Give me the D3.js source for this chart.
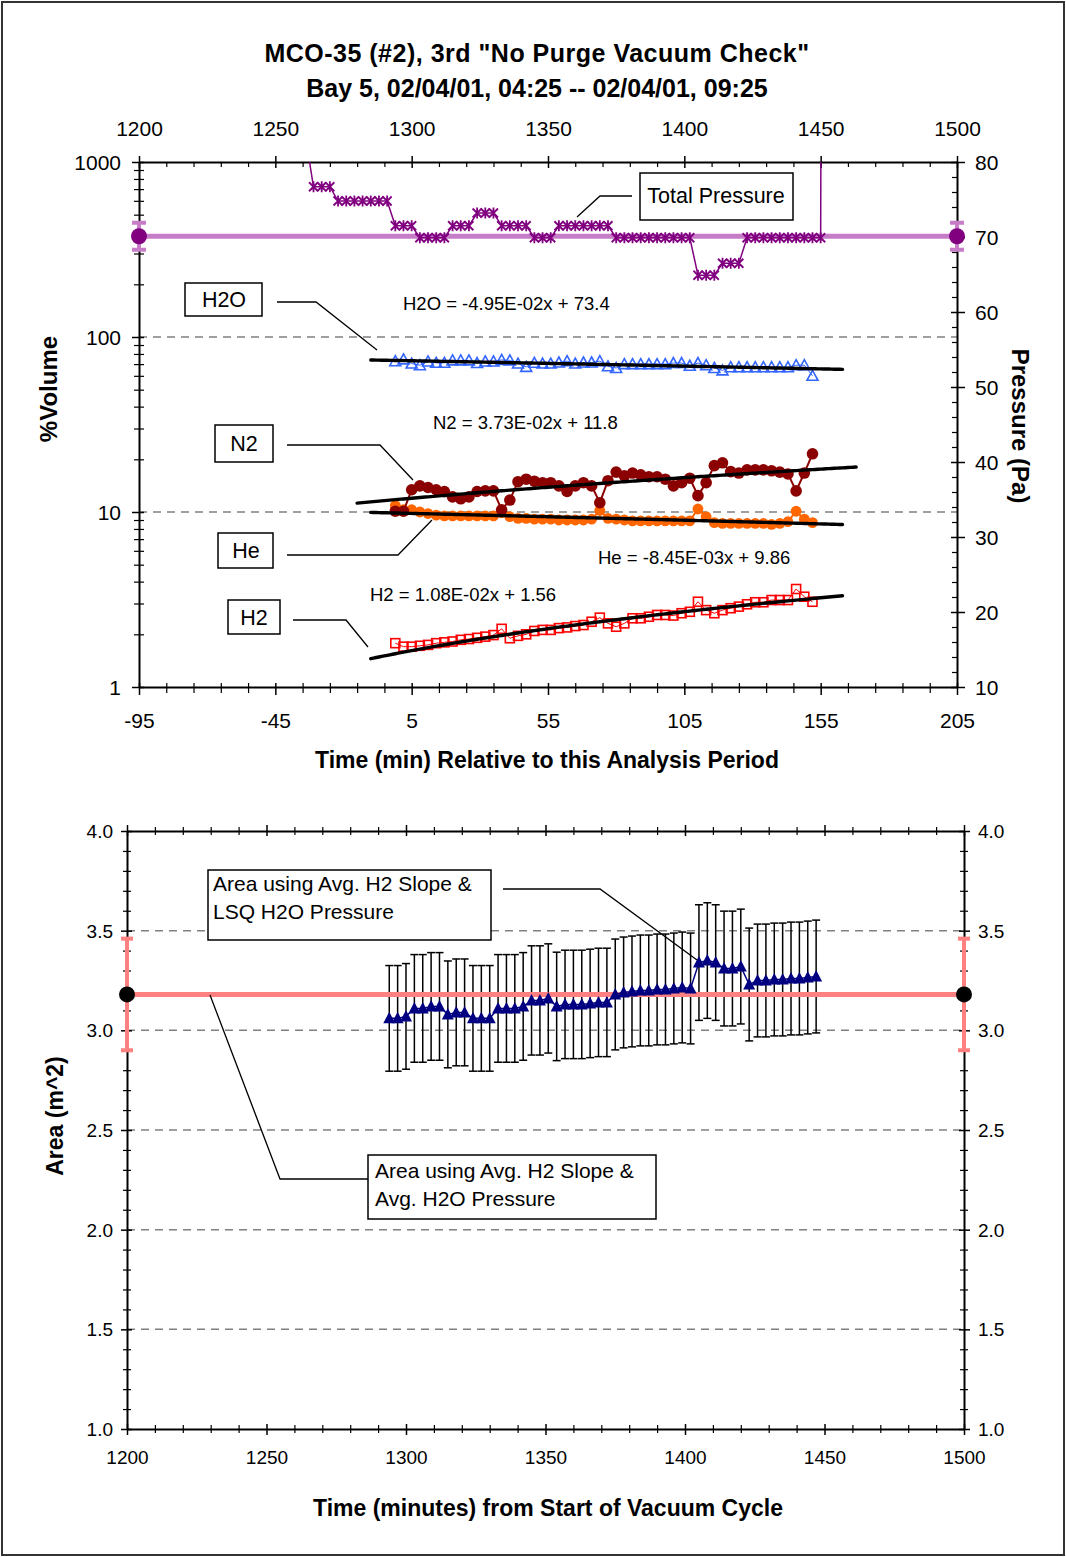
<!DOCTYPE html>
<html>
<head>
<meta charset="utf-8">
<script src="https://cdn.jsdelivr.net/npm/d3@7"></script>
<style>
  body { margin: 0; background: #fff; }
  svg { display: block; font-family: "Liberation Sans", Arial, sans-serif; }
</style>
</head>
<body>
<svg id="chart" width="1066" height="1557"></svg>
<script>
// ---------- data ----------
// gas sample times, minutes relative to the analysis period
const sampleMinutes = [-1,2,5,8,11,14,17,20,23,26,29,32,35,38,41,44,47,50,53,56,59,62,65,68,71,74,
  77,80,83,86,89,92,95,98,101,104,107,110,113,116,119,122,125,128,131,134,137,140,143,146,149,152];

// gas composition, % volume
const h2oPct = [72.7,74.5,70.5,69.0,72.5,71.2,71.2,73.5,73.5,73.5,71.0,72.5,72.5,74.0,73.5,70.5,67.5,71.2,
  70.5,70.5,71.5,72.8,70.5,71.5,71.5,72.8,68.0,66.5,70.0,70.0,70.0,70.0,70.0,70.0,71.0,71.0,68.5,71.0,69.0,
  66.5,64.5,67.2,67.2,67.2,67.2,67.2,67.2,67.2,67.2,69.0,69.0,60.0];
const n2Pct = [10.1,10.1,13.4,14.1,13.8,13.4,13.1,12.2,11.9,12.2,13.1,13.2,13.2,10.3,11.7,14.9,15.4,15.0,
  14.7,14.7,14.1,13.1,14.1,14.7,14.1,11.3,15.1,16.9,16.1,16.7,16.3,15.9,15.9,15.4,14.1,14.7,15.6,12.4,14.7,
  18.4,19.1,17.0,16.7,17.4,17.4,17.4,17.2,16.9,16.5,13.2,16.7,21.5];
const hePct = [10.9,10.3,10.3,10.0,9.8,9.6,9.5,9.5,9.5,9.5,9.5,9.5,9.5,9.9,9.4,9.2,9.2,9.1,9.1,9.1,9.0,9.0,
  9.0,9.0,9.1,10.2,9.2,9.1,9.0,8.9,8.9,8.9,8.9,8.9,8.9,8.9,8.9,10.4,9.4,8.7,8.6,8.6,8.6,8.6,8.6,8.6,8.5,8.6,
  8.8,10.1,9.1,8.7];
const h2Pct = [1.78,1.70,1.70,1.72,1.74,1.78,1.80,1.82,1.86,1.88,1.91,1.94,1.98,2.15,1.90,1.96,2.00,2.09,
  2.12,2.12,2.17,2.19,2.23,2.26,2.36,2.49,2.31,2.21,2.31,2.47,2.47,2.52,2.58,2.58,2.56,2.64,2.69,3.07,2.75,
  2.64,2.75,2.82,2.88,2.97,3.05,3.05,3.14,3.14,3.14,3.63,3.28,3.07];

// total pressure record, minutes relative to the analysis period / Pa
const pressureMinutes = [-34,-31,-28,-25,-22,-19,-16,-13,-10,-7,-4,-1,2,5,8,11,14,17,20,23,26,29,32,35,38,
  41,44,47,50,53,56,59,62,65,68,71,74,77,80,83,86,89,92,95,98,101,104,107,110,113,116,119,122,125,128,131,
  134,137,140,143,146,149,152,155,158];
const pressurePa = [83.5,76.7,76.7,76.7,74.8,74.8,74.8,74.8,74.8,74.8,74.8,71.5,71.5,71.5,69.9,69.9,69.9,
  69.9,71.5,71.5,71.5,73.2,73.2,73.2,71.5,71.5,71.5,71.5,69.9,69.9,69.9,71.5,71.5,71.5,71.5,71.5,71.5,71.5,
  69.9,69.9,69.9,69.9,69.9,69.9,69.9,69.9,69.9,69.9,64.9,64.9,64.9,66.5,66.5,66.5,69.9,69.9,69.9,69.9,69.9,
  69.9,69.9,69.9,69.9,69.9,500];
const avgPressurePa = 70.1;
const avgPressureErrPa = 1.8;

// least-squares fits (x = minutes relative to the analysis period)
const fitGases = ["H2O", "N2", "He", "H2"];
const fitSlopes = [-4.95e-2, 3.73e-2, -8.45e-3, 1.08e-2];
const fitIntercepts = [73.4, 11.8, 9.86, 1.56];
const fitStartMin = [-10, -15, -10, -10];
const fitEndMin = [163, 168, 163, 163];

// surface area estimate per sample (m^2) with its uncertainty
const cycleOffsetMin = 1295; // analysis period starts 1295 min into the vacuum cycle
const areaM2 = [3.06,3.06,3.07,3.11,3.11,3.12,3.12,3.08,3.09,3.09,3.06,3.06,3.06,3.11,3.11,3.11,3.12,3.15,
  3.15,3.16,3.12,3.13,3.13,3.13,3.135,3.14,3.14,3.18,3.19,3.195,3.20,3.20,3.205,3.205,3.21,3.215,3.21,3.34,
  3.35,3.34,3.31,3.31,3.32,3.23,3.25,3.25,3.255,3.255,3.26,3.26,3.265,3.27];
const areaErrM2 = [0.265,0.265,0.265,0.27,0.27,0.27,0.27,0.268,0.268,0.268,0.265,0.265,0.265,0.27,0.27,0.27,
  0.27,0.274,0.274,0.274,0.272,0.272,0.272,0.272,0.272,0.272,0.272,0.278,0.278,0.278,0.278,0.278,0.278,0.278,
  0.278,0.278,0.278,0.29,0.29,0.29,0.288,0.288,0.288,0.283,0.283,0.283,0.283,0.283,0.283,0.283,0.283,0.283];
const avgArea = 3.18;
const avgAreaErr = 0.28;

// tick labels
const relTicks = [-95, -45, 5, 55, 105, 155, 205];
const absTicks = [1200, 1250, 1300, 1350, 1400, 1450, 1500];
const pctTicks = [1, 10, 100, 1000];
const paTicks = [10, 20, 30, 40, 50, 60, 70, 80];
const areaTicks = [1.0, 1.5, 2.0, 2.5, 3.0, 3.5, 4.0];

// ---------- drawing ----------
const svg = d3.select("#chart");
const FONT = '"Liberation Sans", Arial, sans-serif';

svg.append("rect").attr("x", 2).attr("y", 2).attr("width", 1062).attr("height", 1553)
  .attr("fill", "#fff").attr("stroke", "#333").attr("stroke-width", 2);

function styleAxis(g, fontSize) {
  g.attr("font-family", FONT).attr("font-size", fontSize);
  g.select(".domain").attr("stroke", "#000").attr("stroke-width", 2);
  g.selectAll(".tick line").attr("stroke", "#000").attr("stroke-width", 1.5);
  g.selectAll(".tick text").attr("fill", "#000");
  return g;
}
function minorAxis(parent, axis, transform, cross, horizontal) {
  const g = parent.append("g").attr("transform", transform).call(axis.tickFormat(""));
  g.select(".domain").remove();
  g.selectAll(".tick line").attr("stroke", "#000").attr("stroke-width", 1.2)
    .attr(horizontal ? "y1" : "x1", cross);
  return g;
}
function label(parent, text, x, y, size, weight, anchor, rotate) {
  const t = parent.append("text").attr("font-family", FONT).attr("font-size", size)
    .attr("font-weight", weight || "normal").attr("text-anchor", anchor || "middle").attr("fill", "#000");
  if (rotate) t.attr("transform", `translate(${x},${y}) rotate(${rotate})`);
  else t.attr("x", x).attr("y", y);
  t.text(text);
  return t;
}
function calloutBox(parent, x, y, w, h) {
  parent.append("rect").attr("x", x).attr("y", y).attr("width", w).attr("height", h)
    .attr("fill", "#fff").attr("stroke", "#000").attr("stroke-width", 1.5);
}
function leader(parent, pts) {
  parent.append("path").attr("d", d3.line()(pts)).attr("fill", "none")
    .attr("stroke", "#000").attr("stroke-width", 1.3);
}
function sci(v) {
  const [m, e] = v.toExponential(2).split("e");
  const n = Math.abs(+e);
  return `${m}E${+e < 0 ? "-" : "+"}${n < 10 ? "0" + n : n}`;
}

// ===== upper chart: gas composition and total pressure =====
const T = { left: 139, right: 957, top: 162, bottom: 687 };
const xRel = d3.scaleLinear().domain([-95, 205]).range([T.left, T.right]);
const xAbsTop = d3.scaleLinear().domain([1200, 1500]).range([T.left, T.right]);
const yPct = d3.scaleLog().domain([1, 1000]).range([T.bottom, T.top]);
const yPa = d3.scaleLinear().domain([10, 80]).range([T.bottom, T.top]);

const gasG = svg.append("g");
gasG.append("defs").append("clipPath").attr("id", "gasClip").append("rect")
  .attr("x", T.left).attr("y", T.top).attr("width", T.right - T.left).attr("height", T.bottom - T.top);

label(gasG, 'MCO-35 (#2), 3rd "No Purge Vacuum Check"', 537, 62, 25, "bold").attr("letter-spacing", 0.5);
label(gasG, "Bay 5, 02/04/01, 04:25 -- 02/04/01, 09:25", 537, 97, 25, "bold");

// gridlines at decades
gasG.append("g").selectAll("line").data([10, 100]).join("line")
  .attr("x1", T.left).attr("x2", T.right).attr("y1", d => yPct(d)).attr("y2", d => yPct(d))
  .attr("stroke", "#808080").attr("stroke-width", 1.5).attr("stroke-dasharray", "8,6");

// axes
const gxb = gasG.append("g").attr("transform", `translate(0,${T.bottom})`)
  .call(d3.axisBottom(xRel).tickValues(relTicks).tickSize(8).tickSizeOuter(0).tickFormat(d => String(d)));
styleAxis(gxb, 21);
gxb.selectAll(".tick line").attr("y1", -4);
gxb.selectAll(".tick text").attr("y", 41).attr("dy", null);
minorAxis(gasG, d3.axisBottom(xRel).tickValues(d3.range(-85, 205, 10).filter(v => !relTicks.includes(v))).tickSize(6),
  `translate(0,${T.bottom})`, -4, true);

const gxt = gasG.append("g").attr("transform", `translate(0,${T.top})`)
  .call(d3.axisTop(xAbsTop).tickValues(absTicks).tickSize(6).tickSizeOuter(0).tickFormat(d => String(d)));
styleAxis(gxt, 21);
gxt.selectAll(".tick line").attr("y1", 6);
gxt.selectAll(".tick text").attr("y", -26).attr("dy", null);
minorAxis(gasG, d3.axisTop(xAbsTop).tickValues(d3.range(1210, 1500, 10).filter(v => !absTicks.includes(v))).tickSize(0),
  `translate(0,${T.top})`, 5, true);

const gyl = gasG.append("g").attr("transform", `translate(${T.left},0)`)
  .call(d3.axisLeft(yPct).tickValues(pctTicks).tickSize(7).tickSizeOuter(0).tickFormat(d => String(d)));
styleAxis(gyl, 21);
gyl.selectAll(".tick line").attr("x1", 5);
gyl.selectAll(".tick text").attr("x", -18).attr("dy", "0.35em");
const pctMinor = [];
[1, 10, 100].forEach(dec => [2, 3, 4, 5, 6, 7, 8, 9].forEach(m => pctMinor.push(dec * m)));
minorAxis(gasG, d3.axisLeft(yPct).tickValues(pctMinor).tickSize(5), `translate(${T.left},0)`, 5, false);

const gyr = gasG.append("g").attr("transform", `translate(${T.right},0)`)
  .call(d3.axisRight(yPa).tickValues(paTicks).tickSize(8).tickSizeOuter(0).tickFormat(d => String(d)));
styleAxis(gyr, 21);
gyr.selectAll(".tick line").attr("x1", -6);
gyr.selectAll(".tick text").attr("x", 18).attr("dy", "0.35em");
minorAxis(gasG, d3.axisRight(yPa).tickValues(d3.range(12, 80, 2).filter(v => v % 10 !== 0)).tickSize(0),
  `translate(${T.right},0)`, -5, false);

label(gasG, "Time (min) Relative to this Analysis Period", 547, 768, 23, "bold");
label(gasG, "%Volume", 57, 389, 24, "bold", "middle", -90);
label(gasG, "Pressure (Pa)", 1012, 426, 24, "bold", "middle", 90);

// average total pressure with its spread, pinned at both ends of the axis
const avgColor = "#c77cc7";
const avgP = gasG.append("g");
avgP.append("line").attr("x1", xRel(-95)).attr("x2", xRel(205))
  .attr("y1", yPa(avgPressurePa)).attr("y2", yPa(avgPressurePa))
  .attr("stroke", avgColor).attr("stroke-width", 5);
[-95, 205].forEach(t => {
  const cx = xRel(t);
  avgP.append("line").attr("x1", cx).attr("x2", cx)
    .attr("y1", yPa(avgPressurePa - avgPressureErrPa)).attr("y2", yPa(avgPressurePa + avgPressureErrPa))
    .attr("stroke", avgColor).attr("stroke-width", 4);
  [avgPressurePa - avgPressureErrPa, avgPressurePa + avgPressureErrPa].forEach(v => {
    avgP.append("line").attr("x1", cx - 7).attr("x2", cx + 7).attr("y1", yPa(v)).attr("y2", yPa(v))
      .attr("stroke", avgColor).attr("stroke-width", 4);
  });
  avgP.append("circle").attr("cx", cx).attr("cy", yPa(avgPressurePa)).attr("r", 8).attr("fill", "#800080");
});

// total pressure trace
const pressure = pressureMinutes.map((t, i) => ({ t, v: pressurePa[i] }));
const pg = gasG.append("g").attr("clip-path", "url(#gasClip)");
pg.append("path").datum(pressure)
  .attr("d", d3.line().x(d => xRel(d.t)).y(d => yPa(d.v)))
  .attr("fill", "none").attr("stroke", "#800080").attr("stroke-width", 1.5);
pg.selectAll("path.star").data(pressure.filter(d => d.v <= 80)).join("path").attr("class", "star")
  .attr("transform", d => `translate(${xRel(d.t)},${yPa(d.v)})`)
  .attr("d", "M-4.5,-4.5L4.5,4.5M-4.5,4.5L4.5,-4.5M0,-5.5L0,5.5")
  .attr("stroke", "#800080").attr("stroke-width", 1.8).attr("fill", "none");

// gas series
const gasLine = d3.line().x(d => xRel(d.t)).y(d => yPct(d.v));
function series(values) { return sampleMinutes.map((t, i) => ({ t, v: values[i] })); }

const heData = series(hePct);
gasG.append("path").datum(heData).attr("d", gasLine).attr("fill", "none").attr("stroke", "#ff6600").attr("stroke-width", 2);
gasG.append("g").selectAll("circle").data(heData).join("circle")
  .attr("cx", d => xRel(d.t)).attr("cy", d => yPct(d.v)).attr("r", 5.4).attr("fill", "#ff6600");

const n2Data = series(n2Pct);
gasG.append("path").datum(n2Data).attr("d", gasLine).attr("fill", "none").attr("stroke", "#8b0000").attr("stroke-width", 2);
gasG.append("g").selectAll("circle").data(n2Data).join("circle")
  .attr("cx", d => xRel(d.t)).attr("cy", d => yPct(d.v)).attr("r", 5.8).attr("fill", "#8b0000");

const h2Data = series(h2Pct);
gasG.append("path").datum(h2Data).attr("d", gasLine).attr("fill", "none").attr("stroke", "#ff0000").attr("stroke-width", 1);
gasG.append("g").selectAll("rect").data(h2Data).join("rect")
  .attr("x", d => xRel(d.t) - 4.5).attr("y", d => yPct(d.v) - 4.5).attr("width", 9).attr("height", 9)
  .attr("fill", "none").attr("stroke", "#ff0000").attr("stroke-width", 1.6);

const h2oData = series(h2oPct);
gasG.append("path").datum(h2oData).attr("d", gasLine).attr("fill", "none").attr("stroke", "#3366ff").attr("stroke-width", 1);
gasG.append("g").selectAll("path").data(h2oData).join("path")
  .attr("transform", d => `translate(${xRel(d.t)},${yPct(d.v)})`)
  .attr("d", "M0,-5.5L5.5,4.5L-5.5,4.5Z")
  .attr("fill", "none").attr("stroke", "#3366ff").attr("stroke-width", 1.6);

// least-squares fit lines
fitGases.forEach((g, i) => {
  const pts = d3.range(fitStartMin[i], fitEndMin[i] + 0.5, 1).map(t => [t, fitSlopes[i] * t + fitIntercepts[i]]);
  gasG.append("path").datum(pts)
    .attr("d", d3.line().x(d => xRel(d[0])).y(d => yPct(d[1])))
    .attr("fill", "none").attr("stroke", "#000").attr("stroke-width", 3.4).attr("stroke-linecap", "round");
});

// fit equations
const eqPos = { H2O: [403, 310], N2: [433, 429], He: [598, 564], H2: [370, 601] };
fitGases.forEach((g, i) => {
  label(gasG, `${g} = ${sci(fitSlopes[i])}x + ${fitIntercepts[i]}`, eqPos[g][0], eqPos[g][1], 18.5, "normal", "start");
});

// series callouts
calloutBox(gasG, 640, 173, 153, 47);
label(gasG, "Total Pressure", 716, 203, 21.5);
leader(gasG, [[632, 196], [600, 196], [577, 217]]);

calloutBox(gasG, 185, 283, 77, 33);
label(gasG, "H2O", 224, 307, 21.5);
leader(gasG, [[277, 302], [316, 302], [377, 350]]);

calloutBox(gasG, 215, 425, 58, 37);
label(gasG, "N2", 244, 451, 21.5);
leader(gasG, [[287, 445], [380, 445], [413, 480]]);

calloutBox(gasG, 218, 533, 55, 35);
label(gasG, "He", 246, 558, 21.5);
leader(gasG, [[287, 555], [398, 555], [432, 520]]);

calloutBox(gasG, 228, 600, 52, 34);
label(gasG, "H2", 254, 625, 21.5);
leader(gasG, [[293, 620], [346, 620], [368, 647]]);

// ===== lower chart: surface area =====
const B = { left: 127, right: 964, top: 831, bottom: 1429 };
const xAbs = d3.scaleLinear().domain([1200, 1500]).range([B.left, B.right]);
const yArea = d3.scaleLinear().domain([1, 4]).range([B.bottom, B.top]);
const areaG = svg.append("g");

areaG.append("g").selectAll("line").data(areaTicks.filter(v => v > 1 && v < 4)).join("line")
  .attr("x1", B.left).attr("x2", B.right).attr("y1", d => yArea(d)).attr("y2", d => yArea(d))
  .attr("stroke", "#808080").attr("stroke-width", 1.5).attr("stroke-dasharray", "8,6");

const areaMinor = d3.range(11, 40, 1).map(v => v / 10).filter(v => Math.round(v * 10) % 5 !== 0);
const absMinor = d3.range(1210, 1500, 10).filter(v => !absTicks.includes(v));

const bxb = areaG.append("g").attr("transform", `translate(0,${B.bottom})`)
  .call(d3.axisBottom(xAbs).tickValues(absTicks).tickSize(6).tickSizeOuter(0).tickFormat(d => String(d)));
styleAxis(bxb, 19);
bxb.selectAll(".tick line").attr("y1", -5);
bxb.selectAll(".tick text").attr("y", 35).attr("dy", null);
minorAxis(areaG, d3.axisBottom(xAbs).tickValues(absMinor).tickSize(4), `translate(0,${B.bottom})`, -4, true);

const bxt = areaG.append("g").attr("transform", `translate(0,${B.top})`)
  .call(d3.axisTop(xAbs).tickValues(absTicks).tickSize(6).tickSizeOuter(0).tickFormat(""));
styleAxis(bxt, 19);
bxt.selectAll(".tick line").attr("y1", 5);
minorAxis(areaG, d3.axisTop(xAbs).tickValues(absMinor).tickSize(4), `translate(0,${B.top})`, 4, true);

const byl = areaG.append("g").attr("transform", `translate(${B.left},0)`)
  .call(d3.axisLeft(yArea).tickValues(areaTicks).tickSize(6).tickSizeOuter(0).tickFormat(d3.format(".1f")));
styleAxis(byl, 19);
byl.selectAll(".tick line").attr("x1", 5);
byl.selectAll(".tick text").attr("x", -14).attr("dy", "0.35em");
minorAxis(areaG, d3.axisLeft(yArea).tickValues(areaMinor).tickSize(4), `translate(${B.left},0)`, 4, false);

const byr = areaG.append("g").attr("transform", `translate(${B.right},0)`)
  .call(d3.axisRight(yArea).tickValues(areaTicks).tickSize(6).tickSizeOuter(0).tickFormat(d3.format(".1f")));
styleAxis(byr, 19);
byr.selectAll(".tick line").attr("x1", -5);
byr.selectAll(".tick text").attr("x", 14).attr("dy", "0.35em");
minorAxis(areaG, d3.axisRight(yArea).tickValues(areaMinor).tickSize(4), `translate(${B.right},0)`, -4, false);

label(areaG, "Time (minutes) from Start of Vacuum Cycle", 548, 1516, 23, "bold");
label(areaG, "Area (m^2)", 63, 1116, 23, "bold", "middle", -90);

// per-sample area with uncertainty bars
const area = sampleMinutes.map((t, i) => ({ t: t + cycleOffsetMin, v: areaM2[i], e: areaErrM2[i] }));
const eb = areaG.append("g").attr("stroke", "#000").attr("stroke-width", 1.5);
area.forEach(d => {
  const cx = xAbs(d.t);
  eb.append("line").attr("x1", cx).attr("x2", cx).attr("y1", yArea(d.v - d.e)).attr("y2", yArea(d.v + d.e));
  [d.v - d.e, d.v + d.e].forEach(v => eb.append("line")
    .attr("x1", cx - 4).attr("x2", cx + 4).attr("y1", yArea(v)).attr("y2", yArea(v)));
});

// average area with its uncertainty at both ends
const avgAColor = "#ff8080";
const avgA = areaG.append("g");
avgA.append("line").attr("x1", xAbs(1200)).attr("x2", xAbs(1500))
  .attr("y1", yArea(avgArea)).attr("y2", yArea(avgArea))
  .attr("stroke", avgAColor).attr("stroke-width", 5);
[1200, 1500].forEach(t => {
  const cx = xAbs(t);
  avgA.append("line").attr("x1", cx).attr("x2", cx)
    .attr("y1", yArea(avgArea - avgAreaErr)).attr("y2", yArea(avgArea + avgAreaErr))
    .attr("stroke", avgAColor).attr("stroke-width", 4);
  [avgArea - avgAreaErr, avgArea + avgAreaErr].forEach(v => {
    avgA.append("line").attr("x1", cx - 6).attr("x2", cx + 6).attr("y1", yArea(v)).attr("y2", yArea(v))
      .attr("stroke", avgAColor).attr("stroke-width", 4);
  });
  avgA.append("circle").attr("cx", cx).attr("cy", yArea(avgArea)).attr("r", 8).attr("fill", "#000");
});

areaG.append("path").datum(area)
  .attr("d", d3.line().x(d => xAbs(d.t)).y(d => yArea(d.v)))
  .attr("fill", "none").attr("stroke", "#000080").attr("stroke-width", 1.5);
areaG.append("g").selectAll("path").data(area).join("path")
  .attr("transform", d => `translate(${xAbs(d.t)},${yArea(d.v)})`)
  .attr("d", "M0,-6.5L6,5L-6,5Z").attr("fill", "#000080");

// area callouts
calloutBox(areaG, 208, 870, 283, 70);
label(areaG, "Area using Avg. H2 Slope &", 213, 891, 21, "normal", "start");
label(areaG, "LSQ H2O Pressure", 213, 919, 21, "normal", "start");
leader(areaG, [[503, 889], [600, 889], [697, 960]]);

calloutBox(areaG, 368, 1155, 288, 64);
label(areaG, "Area using Avg. H2 Slope &", 375, 1178, 21, "normal", "start");
label(areaG, "Avg. H2O Pressure", 375, 1206, 21, "normal", "start");
leader(areaG, [[368, 1179], [280, 1179], [210, 995]]);
</script>
</body>
</html>
